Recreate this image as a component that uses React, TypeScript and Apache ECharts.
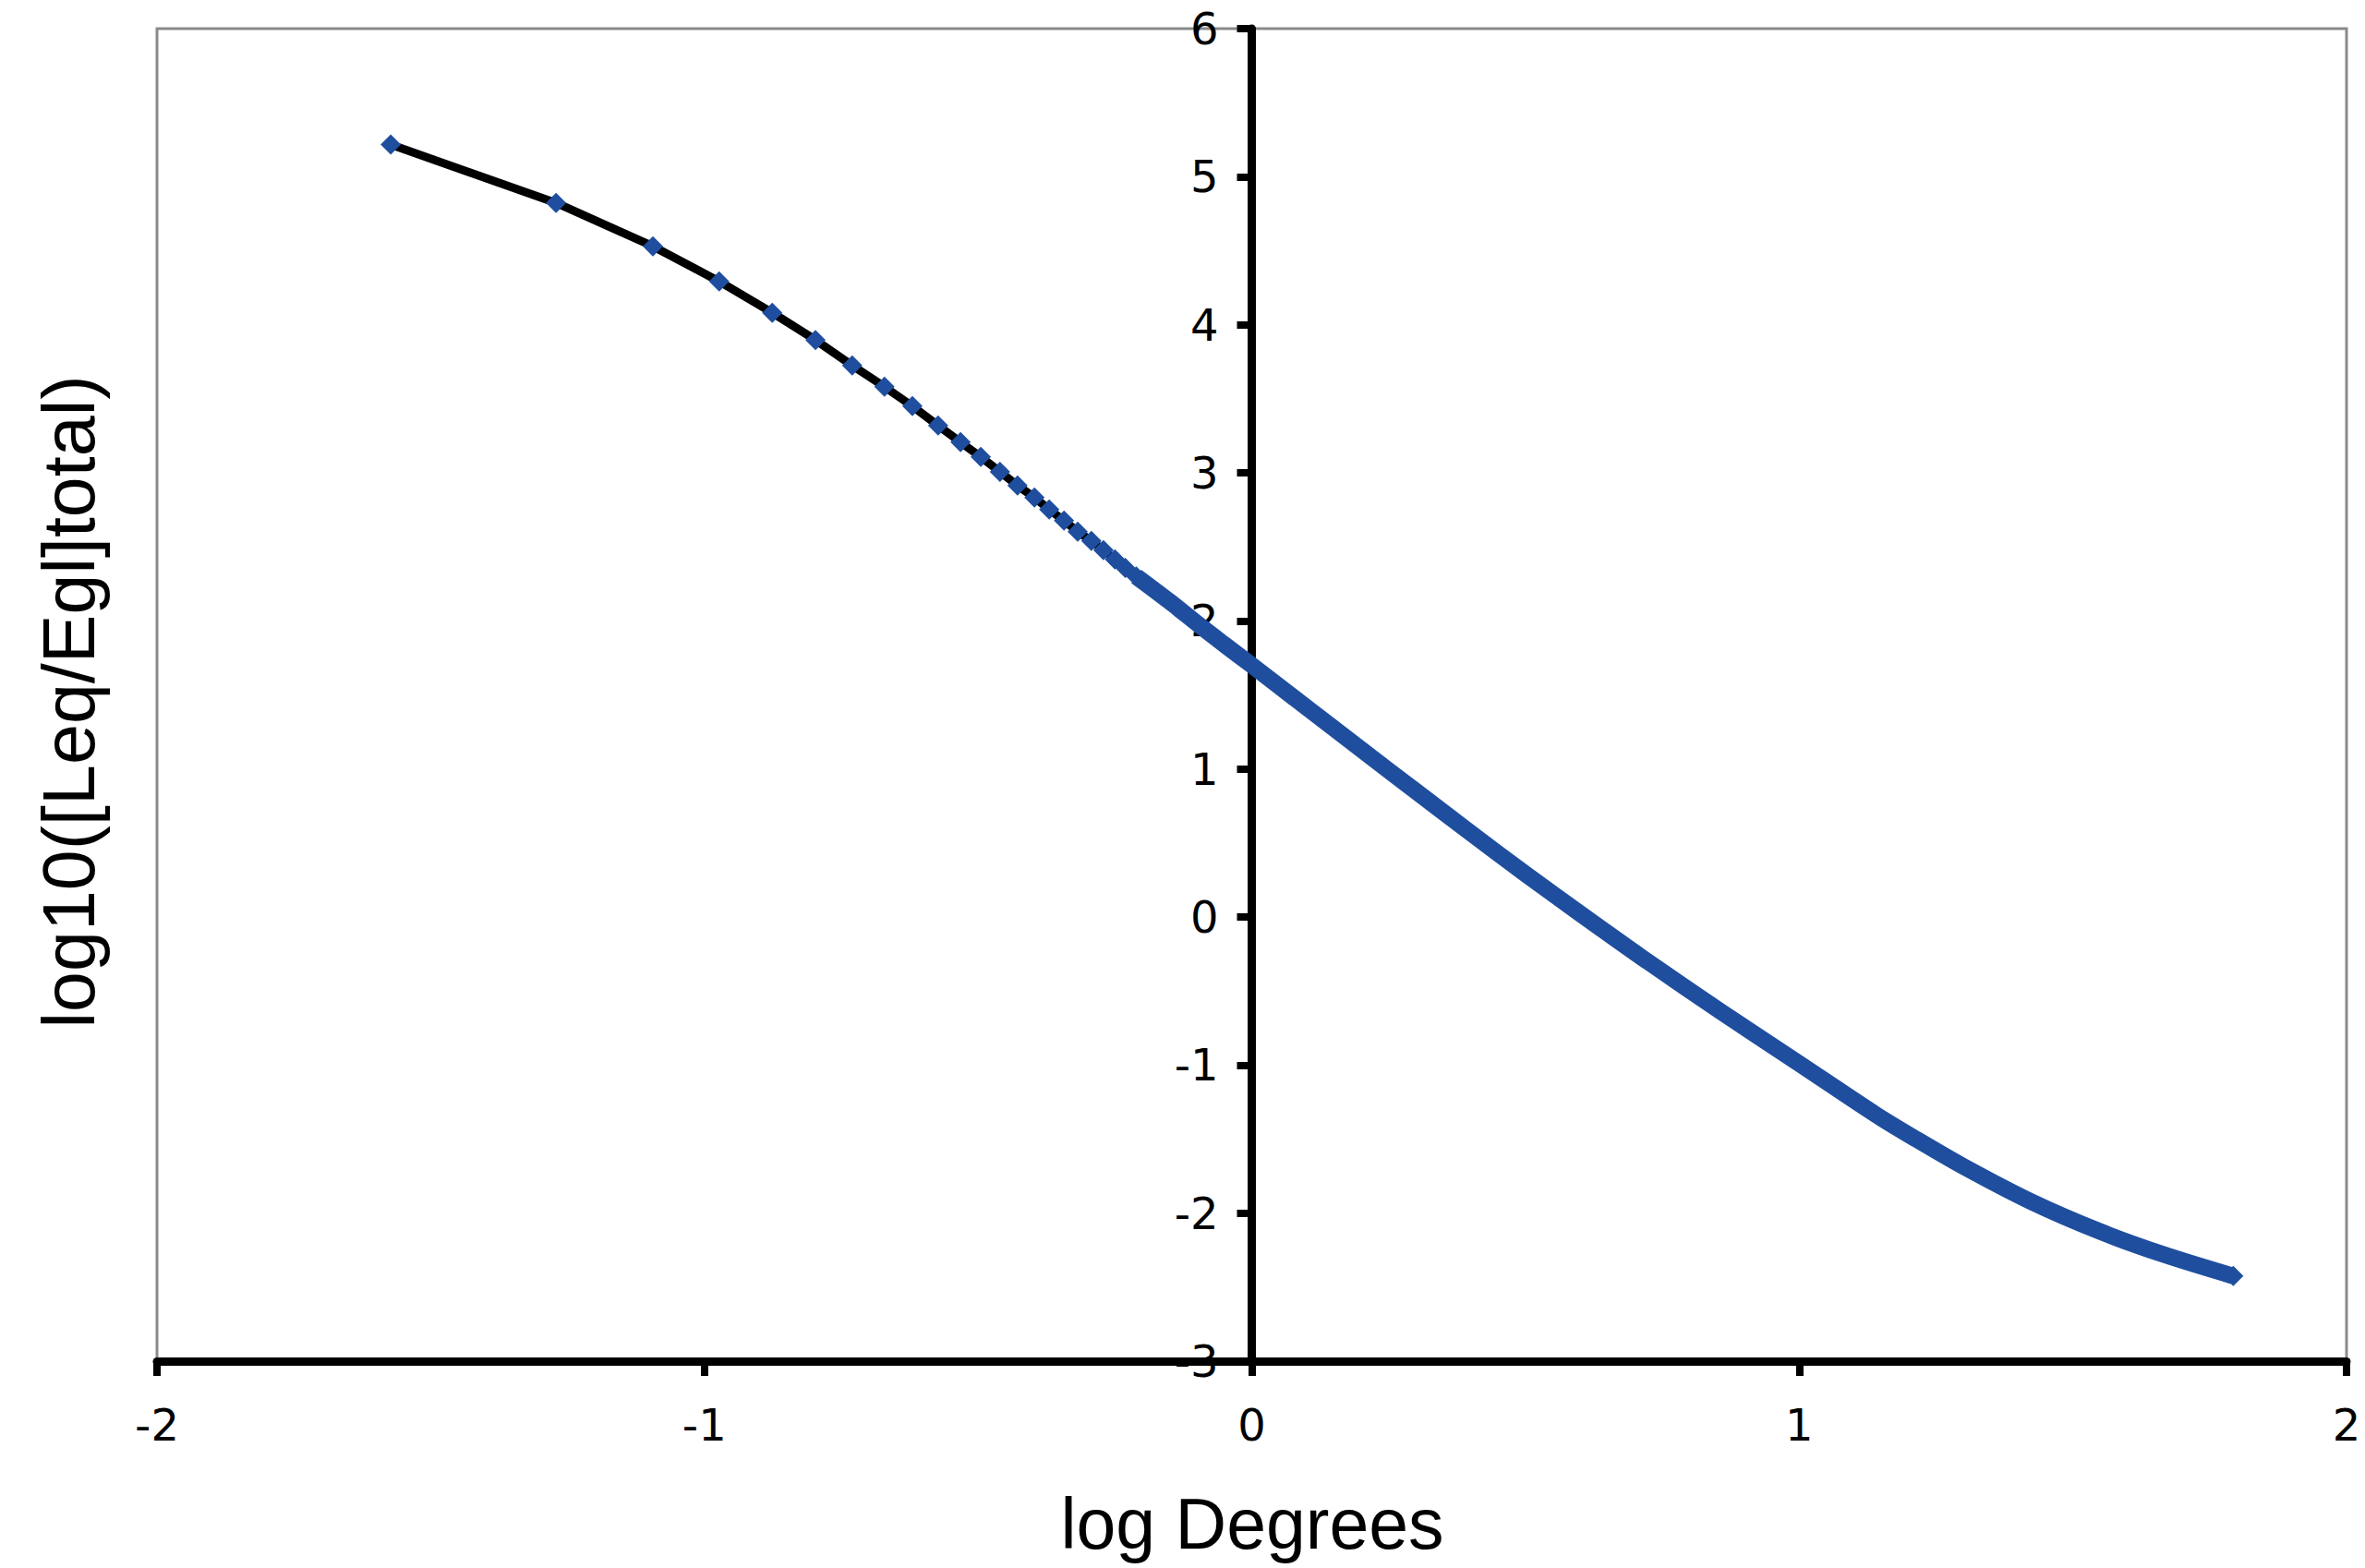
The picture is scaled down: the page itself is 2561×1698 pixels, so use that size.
import React, { useEffect, useRef } from 'react';
import * as echarts from 'echarts';

// Discrete points (blue diamonds on black line)
const sparseLogDeg = [
  -1.573, -1.271, -1.094, -0.973, -0.876, -0.797, -0.730, -0.671, -0.620, -0.573,
  -0.532, -0.495, -0.460, -0.428, -0.397, -0.370, -0.343, -0.318, -0.293, -0.271,
  -0.250, -0.231, -0.211,
];
const sparseLogRatio = [
  5.217, 4.823, 4.530, 4.293, 4.081, 3.897, 3.725, 3.581, 3.450, 3.319,
  3.207, 3.107, 3.007, 2.914, 2.833, 2.752, 2.677, 2.602, 2.540, 2.478,
  2.415, 2.358, 2.300,
];

// Dense region where the markers merge into a thick blue band
const denseLogDeg = [
  -0.211, -0.150, -0.094, -0.050, 0.000, 0.080, 0.159, 0.250, 0.345, 0.450,
  0.553, 0.640, 0.721, 0.856, 1.000, 1.138, 1.209, 1.300, 1.425, 1.550, 1.666, 1.793,
];
const denseLogRatio = [
  2.300, 2.130, 1.965, 1.840, 1.700, 1.472, 1.248, 0.990, 0.722, 0.428,
  0.148, -0.083, -0.295, -0.637, -0.990, -1.330, -1.490, -1.685, -1.925, -2.125, -2.280, -2.425,
];

const xRange = [-2, 2];
const yRange = [-3, 6];
const xTitle = 'log Degrees';
const yTitle = 'log10([Leq/Egl]total)';

const BLUE = '#1f4e9f';
const GRID_LEFT = 170;
const GRID_WIDTH = 2371;

export default function App() {
  const ref = useRef<HTMLDivElement>(null);
  useEffect(() => {
    if (!ref.current) return;
    const chart = echarts.init(ref.current, null, { renderer: 'svg' });
    const sparse = sparseLogDeg.map((x, i) => [x, sparseLogRatio[i]]);
    const dense = denseLogDeg.map((x, i) => [x, denseLogRatio[i]]);
    const lastDense = dense.length - 1;
    // shift the y axis (line, ticks, labels) to x = 0
    const zeroOffset = -((0 - xRange[0]) / (xRange[1] - xRange[0])) * GRID_WIDTH;
    chart.setOption({
      animation: false,
      backgroundColor: '#ffffff',
      grid: {
        left: GRID_LEFT,
        top: 31,
        width: GRID_WIDTH,
        height: 1443,
        show: true,
        borderColor: '#8a8a8a',
        borderWidth: 3,
        backgroundColor: 'transparent',
      },
      xAxis: {
        type: 'value',
        min: xRange[0],
        max: xRange[1],
        interval: 1,
        position: 'bottom',
        axisLine: { show: true, onZero: false, lineStyle: { color: '#000', width: 9 } },
        axisTick: { show: true, inside: false, length: 16, lineStyle: { color: '#000', width: 8 } },
        axisLabel: {
          fontFamily: 'DejaVu Sans',
          fontSize: 48,
          color: '#000',
          margin: 45,
          showMinLabel: true,
          showMaxLabel: true,
        },
        splitLine: { show: false },
      },
      yAxis: {
        type: 'value',
        min: yRange[0],
        max: yRange[1],
        interval: 1,
        position: 'left',
        offset: zeroOffset,
        axisLine: { show: true, onZero: false, lineStyle: { color: '#000', width: 9 } },
        axisTick: { show: true, inside: false, length: 16, lineStyle: { color: '#000', width: 8 } },
        axisLabel: {
          fontFamily: 'DejaVu Sans',
          fontSize: 48,
          color: '#000',
          margin: 36,
          showMinLabel: true,
          showMaxLabel: true,
        },
        splitLine: { show: false },
      },
      graphic: [
        {
          type: 'text',
          x: 1356,
          y: 1650,
          style: {
            text: xTitle,
            fontSize: 77,
            fontFamily: 'Liberation Sans',
            fill: '#000',
            align: 'center',
            verticalAlign: 'middle',
            textAlign: 'center',
            textVerticalAlign: 'middle',
          },
        },
        {
          type: 'text',
          x: 74,
          y: 760,
          rotation: Math.PI / 2,
          style: {
            text: yTitle,
            fontSize: 79,
            fontFamily: 'Liberation Sans',
            fill: '#000',
            align: 'center',
            verticalAlign: 'middle',
            textAlign: 'center',
            textVerticalAlign: 'middle',
          },
        },
      ],
      series: [
        {
          type: 'line',
          data: sparse,
          symbol: 'diamond',
          symbolSize: 22,
          showSymbol: true,
          itemStyle: { color: BLUE },
          lineStyle: { color: '#000', width: 9, join: 'round' },
          z: 3,
        },
        {
          type: 'line',
          data: dense,
          smooth: 0.3,
          symbol: 'diamond',
          symbolSize: (_v: any, p: any) => (p.dataIndex === lastDense ? 22 : 0),
          showSymbol: true,
          itemStyle: { color: BLUE },
          lineStyle: { color: BLUE, width: 18, join: 'round', cap: 'butt' },
          z: 4,
        },
      ],
    });
    return () => chart.dispose();
  }, []);
  return (
    <div
      ref={ref}
      style={{ position: 'fixed', left: 0, top: 0, width: 2561, height: 1698, background: '#fff' }}
    />
  );
}
